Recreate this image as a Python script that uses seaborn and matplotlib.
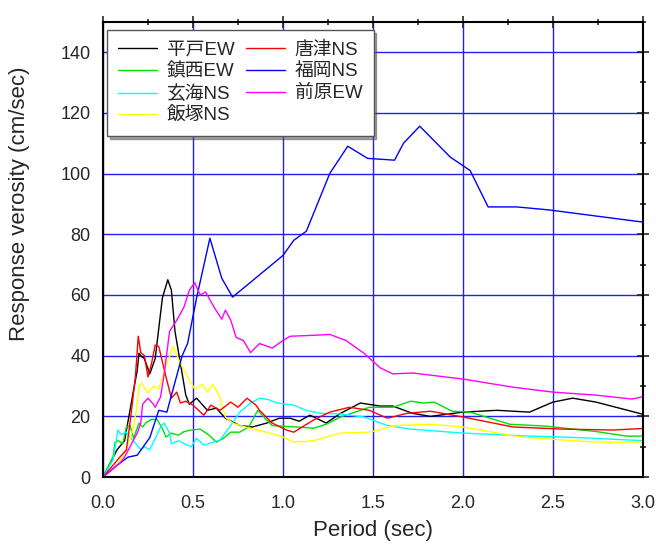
import matplotlib
matplotlib.use("Agg")
import matplotlib.pyplot as plt
import seaborn as sns
from matplotlib.ticker import MultipleLocator

# period (sec) / response velocity (cm/sec)
hirado_x = [0, 0.078, 0.12, 0.15, 0.17, 0.19, 0.2, 0.21, 0.23, 0.26, 0.29, 0.33, 0.36, 0.38, 0.40,
            0.44, 0.46, 0.48, 0.52, 0.58, 0.63, 0.68, 0.76, 0.83, 0.91, 0.98, 1.04, 1.09, 1.15,
            1.24, 1.32, 1.43, 1.54, 1.61, 1.72, 1.82, 2.0, 2.19, 2.37, 2.5, 2.61, 2.74, 3.0]
hirado_y = [0, 9, 12, 22, 28.7, 35, 40.8, 40, 39, 34, 39, 59, 65, 61.6, 48,
            34, 27, 24, 26, 22, 22.7, 19.4, 17, 16.5, 17.8, 19.4, 19.4, 18.4, 20.4,
            17.8, 21, 24.4, 23.4, 23.4, 21, 20, 21.4, 22, 21.4, 24.7, 26, 24.7, 20.7]

chinzei_x = [0, 0.056, 0.067, 0.085, 0.11, 0.13, 0.15, 0.17, 0.2, 0.22, 0.24, 0.27, 0.3, 0.33,
             0.35, 0.38, 0.42, 0.45, 0.49, 0.54, 0.59, 0.63, 0.67, 0.71, 0.76, 0.81, 0.86, 0.9,
             0.94, 0.98, 1.08, 1.17, 1.24, 1.32, 1.48, 1.61, 1.71, 1.78, 1.84, 1.94, 2.04,
             2.26, 2.46, 2.74, 2.91, 3.0]
chinzei_y = [0, 6.6, 11.5, 12, 11, 16.5, 17, 12.8, 17.8, 16.5, 18, 19, 19, 16,
             13.2, 14.5, 13.8, 15, 15.5, 15.8, 13.8, 11.5, 12.8, 14.8, 14.8, 16.5, 22, 19.4,
             17, 16.8, 16.5, 16.1, 17.4, 19.8, 23, 23, 25, 24.4, 24.7, 21.7, 21.4,
             17.4, 16.8, 15, 13.5, 13.5]

genkai_x = [0, 0.056, 0.083, 0.1, 0.13, 0.16, 0.19, 0.21, 0.23, 0.26, 0.32, 0.34, 0.37, 0.38,
            0.42, 0.45, 0.49, 0.52, 0.56, 0.61, 0.65, 0.71, 0.76, 0.82, 0.87, 0.92, 0.97, 1.06,
            1.13, 1.21, 1.32, 1.45, 1.58, 1.71, 2.0, 2.37, 2.65, 3.0]
genkai_y = [0, 5.6, 15.5, 14, 14.8, 12.5, 10.5, 9, 10, 9, 16.5, 17.8, 14.5, 11,
            12, 11, 10, 12.8, 10.5, 11.5, 12.2, 17, 21.4, 24.4, 26, 25.5, 24.4, 23.7,
            22, 21, 20.8, 19.8, 17, 15.8, 14.5, 13.5, 13, 12]

iizuka_x = [0, 0.08, 0.13, 0.17, 0.19, 0.2, 0.215, 0.25, 0.28, 0.31, 0.34, 0.39, 0.43, 0.47,
            0.51, 0.55, 0.58, 0.61, 0.65, 0.68, 0.72, 0.82, 0.91, 1.0, 1.06, 1.17, 1.32, 1.48,
            1.63, 1.82, 2.0, 2.32, 2.56, 2.74, 3.0]
iizuka_y = [0, 4, 9, 16.5, 24, 30, 31, 27.7, 30, 29, 35, 43, 37.5, 33,
            29, 30.5, 28, 30.6, 26.4, 19.8, 17.8, 16, 14.8, 13.2, 11.5, 12, 14.5, 14.8,
            17, 17.4, 16.5, 13.2, 12.2, 11.5, 11.5]

karatsu_x = [0, 0.094, 0.13, 0.15, 0.18, 0.196, 0.21, 0.23, 0.25, 0.27, 0.29, 0.31, 0.35, 0.38,
             0.41, 0.43, 0.46, 0.5, 0.56, 0.6, 0.65, 0.71, 0.75, 0.8, 0.85, 0.87, 0.94, 1.02,
             1.06, 1.17, 1.26, 1.37, 1.48, 1.58, 1.69, 1.82, 2.0, 2.28, 2.56, 2.83, 3.0]
karatsu_y = [0, 6.6, 9, 17.8, 33, 46.4, 41, 40, 33, 37.5, 43.5, 43, 33, 26,
             28, 24.4, 25, 23.7, 20.4, 23.7, 22, 24.7, 23, 26, 23.7, 22, 17.8, 15.5,
             14.8, 18.8, 21.4, 23, 22, 19.4, 21, 21.7, 19.8, 16.5, 15.8, 15.5, 16]

fukuoka_x = [0, 0.08, 0.14, 0.19, 0.26, 0.31, 0.355, 0.44, 0.47, 0.52, 0.594, 0.66, 0.72, 1.0,
             1.06, 1.13, 1.26, 1.36, 1.47, 1.62, 1.67, 1.76, 1.93, 2.04, 2.14, 2.3, 2.48, 3.0]
fukuoka_y = [0, 4, 6.6, 7.2, 13, 22, 21.4, 40, 44, 59, 78.7, 65.5, 59.3, 73,
             78, 81, 100, 109, 105, 104.4, 110, 115.6, 105.4, 101, 89, 89, 88, 84]

maebaru_x = [0, 0.094, 0.12, 0.19, 0.21, 0.22, 0.25, 0.28, 0.29, 0.32, 0.34, 0.37, 0.41, 0.45,
             0.48, 0.51, 0.54, 0.57, 0.62, 0.66, 0.68, 0.71, 0.74, 0.78, 0.82, 0.87, 0.94, 1.0,
             1.04, 1.17, 1.26, 1.35, 1.45, 1.54, 1.61, 1.72, 2.0, 2.28, 2.5, 2.74, 2.94, 3.0]
maebaru_y = [0, 4.6, 6.6, 14.5, 17.8, 24, 26, 24, 23, 26.4, 34, 48, 51.7, 56,
             61.6, 64, 60, 61, 55.7, 52, 55, 51.7, 46, 45, 41, 44, 42.5, 45,
             46.4, 46.7, 47, 45, 40.8, 36, 34, 34.3, 32.3, 29.6, 28, 27, 25.7, 26.5]

series = [
    ("平戸EW", hirado_x, hirado_y, "black"),
    ("鎮西EW", chinzei_x, chinzei_y, "#00e000"),
    ("玄海NS", genkai_x, genkai_y, "cyan"),
    ("飯塚NS", iizuka_x, iizuka_y, "yellow"),
    ("唐津NS", karatsu_x, karatsu_y, "red"),
    ("福岡NS", fukuoka_x, fukuoka_y, "blue"),
    ("前原EW", maebaru_x, maebaru_y, "magenta"),
]

sns.set_style("white")
plt.rcParams['font.family'] = ['Liberation Sans', 'Noto Sans CJK JP', 'DejaVu Sans']

fig = plt.figure(figsize=(6.56, 5.44), dpi=100)
ax = fig.add_axes([0.157, 0.123, 0.823, 0.837])

for name, xs, ys, col in series:
    sns.lineplot(x=xs, y=ys, color=col, label=name, ax=ax, linewidth=1.0, estimator=None)

ax.set_xlim(0, 3.0)
ax.set_ylim(0, 150)
ax.xaxis.set_major_locator(MultipleLocator(0.5))
ax.xaxis.set_minor_locator(MultipleLocator(0.25))
ax.yaxis.set_major_locator(MultipleLocator(20))
ax.yaxis.set_minor_locator(MultipleLocator(10))
ax.xaxis.set_major_formatter(plt.FormatStrFormatter('%.1f'))
ax.grid(True, which='major', color='#2020f0', linewidth=1.0)
ax.set_axisbelow(True)
ax.tick_params(which='both', direction='inout', top=True, right=True, labelsize=13, width=1.2)
ax.tick_params(which='major', length=8, pad=5)
ax.tick_params(which='minor', length=5)
ax.tick_params(axis='x', which='major', pad=9)
for s in ax.spines.values():
    s.set_color('black')
    s.set_linewidth(1.5)

ax.set_xlabel("Period (sec)", fontsize=16, labelpad=6)
ax.set_ylabel("Response verosity (cm/sec)", fontsize=16)
ax.yaxis.set_label_coords(-0.135, 0.6)

leg = ax.legend(loc='upper left', bbox_to_anchor=(0.007, 0.982), borderaxespad=0, ncol=2,
                fontsize=13.5, fancybox=False, shadow=True, framealpha=1, edgecolor='#555555',
                handlelength=2.1, labelspacing=0.25, columnspacing=0.6, handletextpad=0.5,
                borderpad=0.6)
leg.get_frame().set_linewidth(1.0)

fig.savefig("out.png", dpi=100)
